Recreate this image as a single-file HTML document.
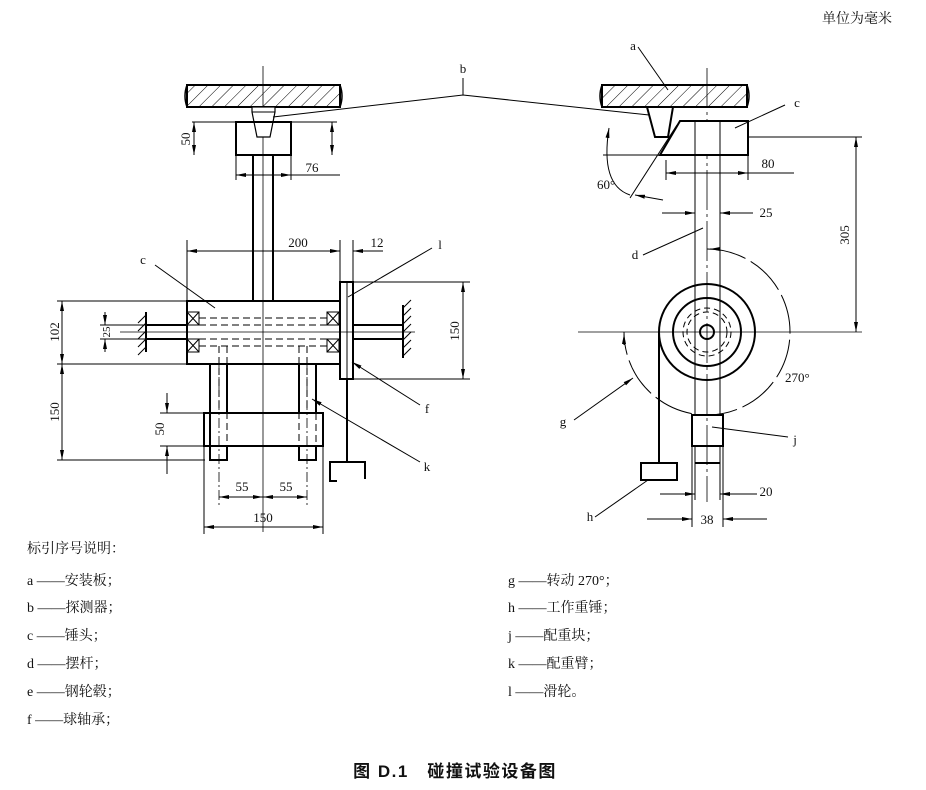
<!DOCTYPE html>
<html><head><meta charset="utf-8"><style>
body{margin:0;background:#fff;width:926px;height:790px;overflow:hidden}
svg{display:block}
text{font-family:"Liberation Serif","Noto Serif CJK SC",serif;fill:#111}
.t{font-family:"Liberation Serif","Noto Serif CJK SC",serif;font-size:14px}
</style></head><body>
<svg width="926" height="790" viewBox="0 0 926 790" xmlns="http://www.w3.org/2000/svg">
<defs>
<pattern id="h" width="9" height="9" patternUnits="userSpaceOnUse" patternTransform="rotate(45)"><line x1="0" y1="0" x2="0" y2="9" stroke="#000" stroke-width="1"/></pattern>
<marker id="a" viewBox="0 0 10 6" refX="10" refY="3" markerWidth="10" markerHeight="6" orient="auto-start-reverse" markerUnits="userSpaceOnUse"><path d="M0,1 L10,3 L0,5z" fill="#000"/></marker>
</defs>
<g fill="none" stroke="#000" stroke-width="1">
<line x1="263" y1="66" x2="263" y2="532" stroke-width="0.8"/>
<rect x="187" y="85" width="153" height="22" fill="url(#h)" stroke-width="2"/>
<path d="M187,85 q-4,11 0,22 M340,85 q4,11 0,22" stroke-width="1.5"/>
<path d="M252,107 h23 v5 l-5,25 h-13 l-5,-25z" stroke-width="1.2" fill="#fff"/>
<line x1="252" y1="112" x2="275" y2="112"/>
<rect x="236" y="122" width="55" height="33" stroke-width="2"/>
<rect x="253" y="155" width="20" height="146" stroke-width="2"/>
<line x1="192" y1="122" x2="337" y2="122"/>
<line x1="194" y1="122" x2="194" y2="155" marker-start="url(#a)" marker-end="url(#a)"/>
<line x1="332" y1="122" x2="332" y2="155" marker-start="url(#a)" marker-end="url(#a)"/>
<line x1="236" y1="155" x2="236" y2="180"/><line x1="291" y1="155" x2="291" y2="180"/>
<line x1="236" y1="175" x2="340" y2="175"/>
<line x1="246" y1="175" x2="236" y2="175" marker-end="url(#a)"/>
<line x1="281" y1="175" x2="291" y2="175" marker-end="url(#a)"/>
<line x1="187" y1="240" x2="187" y2="301"/><line x1="340" y1="240" x2="340" y2="282"/><line x1="353" y1="240" x2="353" y2="282"/>
<line x1="187" y1="251" x2="340" y2="251" marker-start="url(#a)" marker-end="url(#a)"/>
<line x1="383" y1="251" x2="353" y2="251" marker-end="url(#a)"/>
<rect x="187" y="301" width="153" height="63" stroke-width="2"/>
<g stroke-width="1">
<rect x="187" y="312" width="12" height="13"/><path d="M187,312 l12,13 M199,312 l-12,13"/>
<rect x="187" y="339" width="12" height="13"/><path d="M187,339 l12,13 M199,339 l-12,13"/>
<rect x="327" y="312" width="12" height="13"/><path d="M327,312 l12,13 M339,312 l-12,13"/>
<rect x="327" y="339" width="12" height="13"/><path d="M327,339 l12,13 M339,339 l-12,13"/>
</g>
<g stroke-dasharray="7,4">
<line x1="199" y1="318" x2="327" y2="318"/><line x1="199" y1="325" x2="327" y2="325"/>
<line x1="199" y1="339" x2="327" y2="339"/><line x1="199" y1="346" x2="327" y2="346"/>
<line x1="219" y1="346" x2="219" y2="413"/><line x1="227" y1="346" x2="227" y2="460"/>
<line x1="299" y1="346" x2="299" y2="460"/><line x1="307" y1="346" x2="307" y2="413"/>
<line x1="210" y1="413" x2="210" y2="446"/><line x1="316" y1="413" x2="316" y2="446"/>
</g>
<line x1="120" y1="332" x2="415" y2="332" stroke-width="0.8"/>
<path d="M147,325 h40 M147,339 h40 M353,325 h50 M353,339 h50" stroke-width="2"/>
<line x1="146" y1="312" x2="146" y2="352" stroke-width="2"/>
<path d="M146,315 l-8,8 M146,323 l-8,8 M146,331 l-8,8 M146,339 l-8,8 M146,347 l-8,8"/>
<line x1="403" y1="305" x2="403" y2="358" stroke-width="2"/>
<path d="M403,308 l8,-8 M403,316 l8,-8 M403,324 l8,-8 M403,332 l8,-8 M403,340 l8,-8 M403,348 l8,-8 M403,356 l8,-8"/>
<rect x="340" y="282" width="13" height="97" stroke-width="2"/>
<line x1="347" y1="282" x2="347" y2="379"/>
<line x1="347" y1="379" x2="347" y2="462" stroke-width="2"/>
<path d="M337,481 h-7 v-19 h35 v17" stroke-width="2"/>
<line x1="353" y1="282" x2="470" y2="282"/><line x1="353" y1="379" x2="470" y2="379"/>
<line x1="463" y1="282" x2="463" y2="379" marker-start="url(#a)" marker-end="url(#a)"/>
<line x1="57" y1="301" x2="187" y2="301"/><line x1="57" y1="364" x2="187" y2="364"/>
<line x1="62" y1="301" x2="62" y2="364" marker-start="url(#a)" marker-end="url(#a)"/>
<line x1="57" y1="460" x2="205" y2="460"/>
<line x1="62" y1="364" x2="62" y2="460" marker-start="url(#a)" marker-end="url(#a)"/>
<line x1="100" y1="325" x2="147" y2="325"/><line x1="100" y1="339" x2="147" y2="339"/>
<line x1="105" y1="312" x2="105" y2="325" marker-end="url(#a)"/>
<line x1="105" y1="352" x2="105" y2="339" marker-end="url(#a)"/>
<path d="M210,364 V460 H227 V446 M227,364 V413" stroke-width="2"/>
<path d="M299,413 V364 M316,364 V413 M299,446 V460 H316 V446" stroke-width="2"/>
<line x1="219" y1="364" x2="219" y2="505" stroke-dasharray="10,3,2,3" stroke-width="0.8"/>
<line x1="307" y1="364" x2="307" y2="505" stroke-dasharray="10,3,2,3" stroke-width="0.8"/>
<rect x="204" y="413" width="119" height="33" stroke-width="2"/>
<line x1="160" y1="413" x2="204" y2="413"/><line x1="160" y1="446" x2="204" y2="446"/>
<line x1="167" y1="393" x2="167" y2="413" marker-end="url(#a)"/>
<line x1="167" y1="474" x2="167" y2="446" marker-end="url(#a)"/>
<line x1="204" y1="446" x2="204" y2="534"/><line x1="323" y1="446" x2="323" y2="534"/>
<line x1="219" y1="497" x2="263" y2="497" marker-start="url(#a)" marker-end="url(#a)"/>
<line x1="263" y1="497" x2="307" y2="497" marker-start="url(#a)" marker-end="url(#a)"/>
<line x1="204" y1="527" x2="323" y2="527" marker-start="url(#a)" marker-end="url(#a)"/>
<line x1="155" y1="265" x2="215" y2="308"/>
<line x1="432" y1="248" x2="348" y2="297"/>
<line x1="420" y1="405" x2="352" y2="362" marker-end="url(#a)"/>
<line x1="420" y1="462" x2="312" y2="399" marker-end="url(#a)"/>
<line x1="463" y1="78" x2="463" y2="95"/>
<polyline points="273,117 463,95 668,117"/>
<line x1="707" y1="68" x2="707" y2="502" stroke-dasharray="40,4,3,4" stroke-width="0.8"/>
<rect x="602" y="85" width="145" height="22" fill="url(#h)" stroke-width="2"/>
<path d="M602,85 q-4,11 0,22 M747,85 q4,11 0,22" stroke-width="1.5"/>
<path d="M647,107 h26 l-5,30 h-13z" stroke-width="2" fill="#fff"/>
<path d="M680,121 H748 V155 H660z" stroke-width="2" fill="#fff"/>
<line x1="695" y1="121" x2="695" y2="415"/><line x1="720" y1="121" x2="720" y2="415"/>
<line x1="748" y1="137" x2="862" y2="137"/>
<line x1="603" y1="155" x2="660" y2="155"/>
<line x1="630" y1="198" x2="677" y2="125"/>
<path d="M609,128 Q600,185 630,195" marker-start="url(#a)"/>
<line x1="663" y1="200" x2="635" y2="195" marker-end="url(#a)"/>
<line x1="666" y1="160" x2="666" y2="180"/><line x1="748" y1="155" x2="748" y2="180"/>
<line x1="666" y1="173" x2="794" y2="173"/>
<line x1="676" y1="173" x2="666" y2="173" marker-end="url(#a)"/>
<line x1="738" y1="173" x2="748" y2="173" marker-end="url(#a)"/>
<line x1="662" y1="213" x2="695" y2="213" marker-end="url(#a)"/>
<line x1="753" y1="213" x2="720" y2="213" marker-end="url(#a)"/>
<line x1="856" y1="137" x2="856" y2="332" marker-start="url(#a)" marker-end="url(#a)"/>
<line x1="578" y1="332" x2="862" y2="332" stroke-width="0.8"/>
<circle cx="707" cy="332" r="48" stroke-width="2" fill="none"/>
<circle cx="707" cy="332" r="34" stroke-width="2"/>
<circle cx="707" cy="332" r="7" stroke-width="2"/>
<circle cx="707" cy="332" r="20" stroke-dasharray="6,4"/>
<circle cx="707" cy="332" r="24" stroke-dasharray="6,4"/>
<path d="M707,249 A83,83 0 1 1 624,332" stroke-dasharray="40,6"/>
<line x1="720" y1="249" x2="710" y2="249" marker-end="url(#a)"/>
<line x1="624" y1="345" x2="624" y2="334" marker-end="url(#a)"/>
<line x1="659" y1="332" x2="659" y2="463" stroke-width="2"/>
<rect x="641" y="463" width="36" height="17" stroke-width="2"/>
<rect x="692" y="415" width="31" height="31" stroke-width="2"/>
<line x1="695" y1="446" x2="695" y2="463"/><line x1="720" y1="446" x2="720" y2="463"/>
<line x1="695" y1="463" x2="720" y2="463" stroke-width="2"/>
<line x1="692" y1="446" x2="692" y2="527"/><line x1="723" y1="446" x2="723" y2="527"/>
<line x1="695" y1="463" x2="695" y2="500"/><line x1="720" y1="463" x2="720" y2="500"/>
<line x1="660" y1="494" x2="695" y2="494" marker-end="url(#a)"/>
<line x1="757" y1="494" x2="720" y2="494" marker-end="url(#a)"/>
<line x1="647" y1="519" x2="692" y2="519" marker-end="url(#a)"/>
<line x1="767" y1="519" x2="723" y2="519" marker-end="url(#a)"/>
<line x1="638" y1="47" x2="668" y2="90"/>
<line x1="785" y1="105" x2="735" y2="128"/>
<line x1="643" y1="255" x2="703" y2="228"/>
<line x1="574" y1="420" x2="633" y2="378" marker-end="url(#a)"/>
<line x1="595" y1="517" x2="648" y2="480"/>
<line x1="788" y1="437" x2="712" y2="427"/>
</g>
<g font-size="13">
<text x="200" y="139" text-anchor="middle" transform="rotate(-90 186 139)" dx="-14" dy="4">50</text>
<text x="312" y="172" text-anchor="middle">76</text>
<text x="298" y="247" text-anchor="middle">200</text>
<text x="377" y="247" text-anchor="middle">12</text>
<text x="55" y="332" text-anchor="middle" transform="rotate(-90 55 332)" dy="4">102</text>
<text x="55" y="412" text-anchor="middle" transform="rotate(-90 55 412)" dy="4">150</text>
<text x="106" y="332" text-anchor="middle" transform="rotate(-90 106 332)" dy="4" font-size="11">25</text>
<text x="455" y="331" text-anchor="middle" transform="rotate(-90 455 331)" dy="4">150</text>
<text x="160" y="429" text-anchor="middle" transform="rotate(-90 160 429)" dy="4">50</text>
<text x="242" y="491" text-anchor="middle">55</text>
<text x="286" y="491" text-anchor="middle">55</text>
<text x="263" y="522" text-anchor="middle">150</text>
<text x="143" y="264" text-anchor="middle">c</text>
<text x="440" y="249" text-anchor="middle">l</text>
<text x="427" y="413" text-anchor="middle">f</text>
<text x="427" y="471" text-anchor="middle">k</text>
<text x="463" y="73" text-anchor="middle">b</text>
<text x="633" y="50" text-anchor="middle">a</text>
<text x="797" y="107" text-anchor="middle">c</text>
<text x="597" y="189">60°</text>
<text x="768" y="168" text-anchor="middle">80</text>
<text x="766" y="217" text-anchor="middle">25</text>
<text x="635" y="259" text-anchor="middle">d</text>
<text x="845" y="235" text-anchor="middle" transform="rotate(-90 845 235)" dy="4">305</text>
<text x="785" y="382">270°</text>
<text x="563" y="426" text-anchor="middle">g</text>
<text x="795" y="444" text-anchor="middle">j</text>
<text x="590" y="521" text-anchor="middle">h</text>
<text x="766" y="496" text-anchor="middle">20</text>
<text x="707" y="524" text-anchor="middle">38</text>
</g>
<g>
<text x="822" y="23" class="t">单位为毫米</text>
<text x="27" y="553" class="t">标引序号说明：</text>
<text x="27" y="585" class="t">a ——安装板；</text>
<text x="27" y="612" class="t">b ——探测器；</text>
<text x="27" y="640" class="t">c ——锤头；</text>
<text x="27" y="668" class="t">d ——摆杆；</text>
<text x="27" y="696" class="t">e ——钢轮毂；</text>
<text x="27" y="724" class="t">f ——球轴承；</text>
<text x="508" y="585" class="t">g ——转动 270°；</text>
<text x="508" y="612" class="t">h ——工作重锤；</text>
<text x="508" y="640" class="t">j ——配重块；</text>
<text x="508" y="668" class="t">k ——配重臂；</text>
<text x="508" y="696" class="t">l ——滑轮。</text>
<text x="455" y="777" text-anchor="middle" style="font-family:'Liberation Sans','Noto Sans CJK SC',sans-serif;font-size:17px;font-weight:bold;letter-spacing:1.5px">图 D.1　碰撞试验设备图</text>
</g>
</svg>
</body></html>
